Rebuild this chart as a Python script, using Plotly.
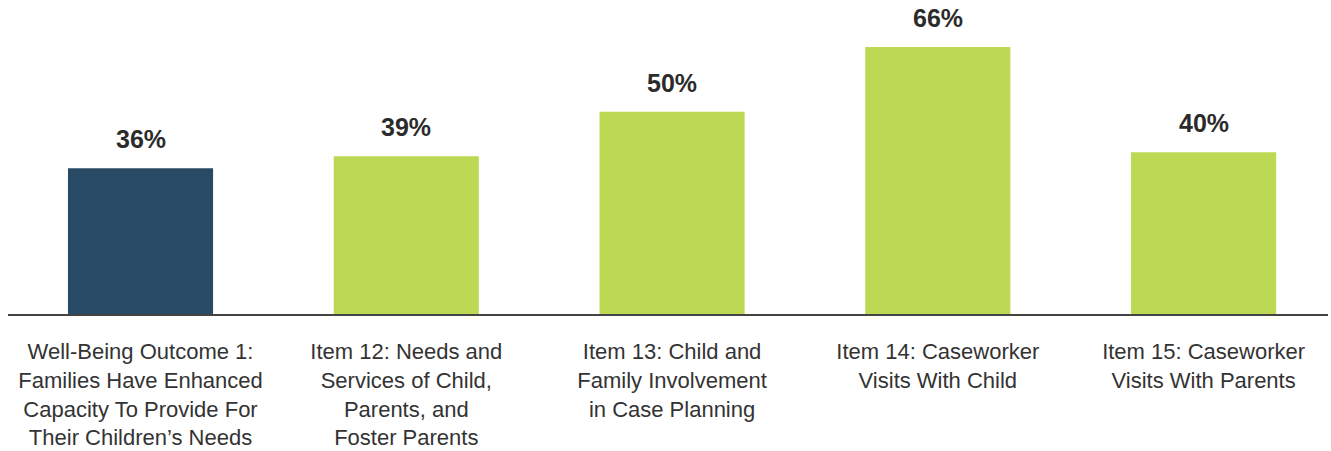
import plotly.graph_objects as go

categories = [
    "Well-Being Outcome 1:<br>Families Have Enhanced<br>Capacity To Provide For<br>Their Children’s Needs",
    "Item 12: Needs and<br>Services of Child,<br>Parents, and<br>Foster Parents",
    "Item 13: Child and<br>Family Involvement<br>in Case Planning",
    "Item 14: Caseworker<br>Visits With Child",
    "Item 15: Caseworker<br>Visits With Parents",
]
values = [36, 39, 50, 66, 40]
bar_colors = ["#284A64", "#BDD852", "#BDD852", "#BDD852", "#BDD852"]

fig = go.Figure(
    go.Bar(
        x=categories,
        y=values,
        marker=dict(color=bar_colors, line=dict(width=0)),
        width=0.546,
        hoverinfo="skip",
    )
)

for cat, val in zip(categories, values):
    fig.add_annotation(
        x=cat, y=val, text=f"<b>{val}%</b>", showarrow=False,
        yanchor="bottom", yshift=13,
        font=dict(family="Liberation Sans, Arial, sans-serif", size=25, color="#2b2b2b"),
    )

fig.update_layout(
    width=1331, height=451,
    margin=dict(l=8, r=3, t=0, b=137),
    paper_bgcolor="white", plot_bgcolor="white",
    showlegend=False,
    font=dict(family="Liberation Sans, Arial, sans-serif", color="#333333"),
)
fig.update_xaxes(
    showline=True, linecolor="#444444", linewidth=2,
    showgrid=False, zeroline=False, ticks="",
    tickfont=dict(size=22, color="#333333"),
    ticklabelstandoff=17,
    automargin=False,
    range=[-0.4986, 4.468],
)
fig.update_yaxes(visible=False, range=[0, 77.6], fixedrange=True, automargin=False)

fig.write_html("out.html")
